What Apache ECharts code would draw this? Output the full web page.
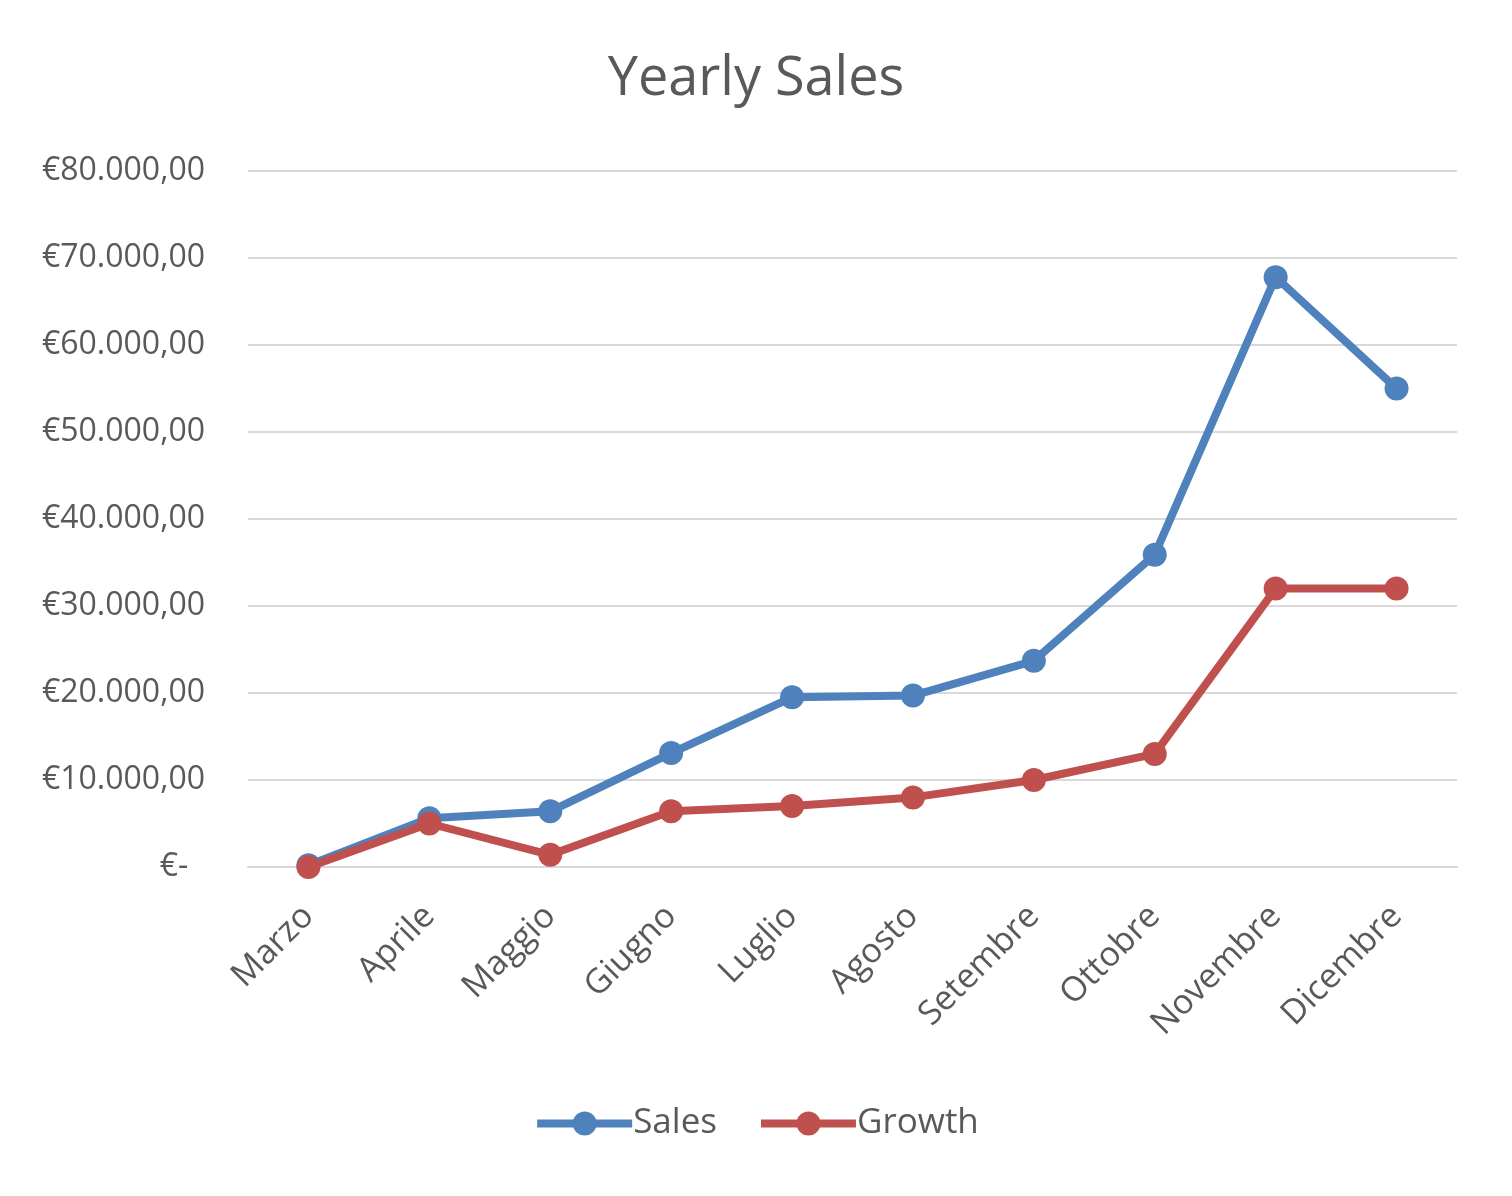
<!DOCTYPE html>
<html>
<head>
<meta charset="utf-8">
<title>Yearly Sales</title>
<script src="https://cdn.jsdelivr.net/npm/echarts@6/dist/echarts.min.js"></script>
<style>
  html, body { margin: 0; padding: 0; background: #fff; }
  #chart { width: 1512px; height: 1196px; }
</style>
</head>
<body>
<div id="chart"></div>
<script>
const months = ["Marzo", "Aprile", "Maggio", "Giugno", "Luglio", "Agosto", "Setembre", "Ottobre", "Novembre", "Dicembre"];
const sales = [200, 5600, 6400, 13100, 19500, 19700, 23700, 35900, 67800, 55000];
const growth = [0, 5000, 1400, 6400, 7000, 8000, 10000, 13000, 32000, 32000];
const yTicks = { min: 0, max: 80000, interval: 10000 };

const textColor = "#595959";
const font = "'Open Sans', 'Noto Sans', sans-serif";

function euro(value) {
  if (!value) return "€-  ";
  const whole = Math.round(value).toString().replace(/\B(?=(\d{3})+(?!\d))/g, ".");
  return `€${whole},00`;
}

const chart = echarts.init(document.querySelector("#chart"));

function lineSeries(name, data, color) {
  return {
    name,
    type: "line",
    data,
    color,
    symbol: "circle",
    symbolSize: 24,
    lineStyle: { width: 8, color },
    itemStyle: { color },
    emphasis: { disabled: true },
  };
}

chart.setOption({
  animation: false,
  textStyle: { fontFamily: font, color: textColor },
  title: {
    text: "Yearly Sales",
    left: "center",
    top: 48,
    textStyle: { fontFamily: font, fontSize: 54, fontWeight: 500, color: textColor },
  },
  legend: {
    bottom: 50,
    left: "center",
    itemWidth: 95,
    itemHeight: 30,
    itemGap: 40,
    lineStyle: { width: 8 },
    textStyle: { fontFamily: font, fontSize: 35, color: textColor, padding: [0, 0, 0, -4] },
    data: ["Sales", "Growth"],
  },
  grid: { left: 248, right: 55, top: 171, bottom: 329 },
  xAxis: {
    type: "category",
    data: months,
    axisLine: { lineStyle: { color: "#d9d9d9", width: 2 } },
    axisTick: { show: false },
    axisLabel: { rotate: 45, margin: 44, fontSize: 34, color: textColor, fontFamily: font },
  },
  yAxis: {
    type: "value",
    min: yTicks.min,
    max: yTicks.max,
    interval: yTicks.interval,
    axisLine: { show: false },
    axisTick: { show: false },
    splitLine: { lineStyle: { color: "#d9d9d9", width: 2 } },
    axisLabel: { margin: 43, fontSize: 32, color: textColor, fontFamily: font, formatter: euro },
  },
  series: [
    lineSeries("Sales", sales, "#4F81BD"),
    lineSeries("Growth", growth, "#C0504D"),
  ],
});

window.addEventListener("resize", () => chart.resize());
</script>
</body>
</html>
